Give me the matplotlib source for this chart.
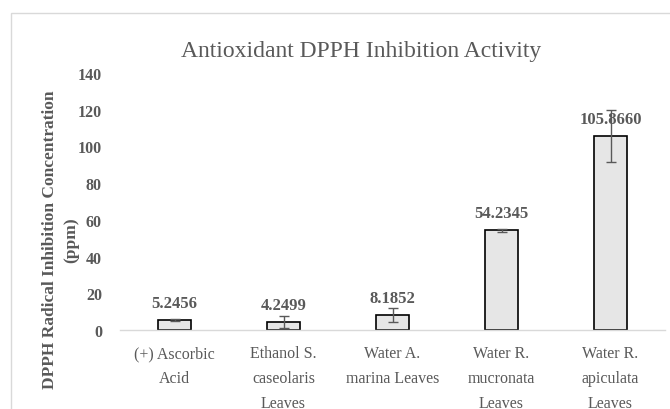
import matplotlib
matplotlib.use("Agg")
import matplotlib.pyplot as plt
from matplotlib.patches import Rectangle

categories = ["(+) Ascorbic\nAcid", "Ethanol S.\ncaseolaris\nLeaves", "Water A.\nmarina Leaves",
              "Water R.\nmucronata\nLeaves", "Water R.\napiculata\nLeaves"]
values = [5.2456, 4.2499, 8.1852, 54.2345, 105.8660]
errors = [0.5, 3.2, 4.0, 0.9, 14.2]
labels = ["5.2456", "4.2499", "8.1852", "54.2345", "105.8660"]
yticks = [0, 20, 40, 60, 80, 100, 120, 140]

TXT = "#595959"
plt.rcParams['font.family'] = ['Liberation Serif', 'DejaVu Serif']

fig = plt.figure(figsize=(6.7, 4.1), dpi=100)
fig.patches.append(Rectangle((11/670, -0.1), 1.2, 1.1 - 14/410, transform=fig.transFigure,
                             fill=False, edgecolor="#d9d9d9", linewidth=1.0))
ax = fig.add_axes([120/670, 79/410, 545/670, 257/410])

x = list(range(len(values)))
ax.bar(x, values, width=0.31, color="#e6e6e6", edgecolor="black", linewidth=1.2, zorder=2)
ax.errorbar(x, values, yerr=errors, fmt='none', ecolor=TXT, elinewidth=1.0, capsize=3.5,
            capthick=1.0, zorder=3)
for xi, v, lab in zip(x, values, labels):
    ax.annotate(lab, (xi, v), xytext=(0, 12.3), textcoords='offset points', ha='center', va='center',
                fontsize=12, fontweight='bold', color=TXT)

ax.set_xlim(-0.5, len(values) - 0.5)
ax.set_ylim(0, 140)
ax.set_yticks(yticks)
ax.set_yticklabels([str(t) for t in yticks], fontsize=11.5, fontweight='bold', color=TXT)
ax.set_xticks(x)
ax.set_xticklabels(categories, fontsize=11.5, color=TXT, linespacing=1.72)
ax.tick_params(axis='y', length=0, pad=13)
ax.tick_params(axis='x', length=0, pad=11)
for s in ['top', 'right', 'left']:
    ax.spines[s].set_visible(False)
ax.spines['bottom'].set_color("#d9d9d9")
ax.spines['bottom'].set_linewidth(1.0)

fig.text(361/670, 1 - 52/410, "Antioxidant DPPH Inhibition Activity", ha='center', va='center',
         fontsize=17, color=TXT)
fig.text(61/670, 1 - 240/410, "DPPH Radical Inhibition Concentration\n(ppm)", ha='center', va='center',
         rotation=90, fontsize=12.5, fontweight='bold', color=TXT, linespacing=1.45)

fig.savefig("out.png", dpi=100)
